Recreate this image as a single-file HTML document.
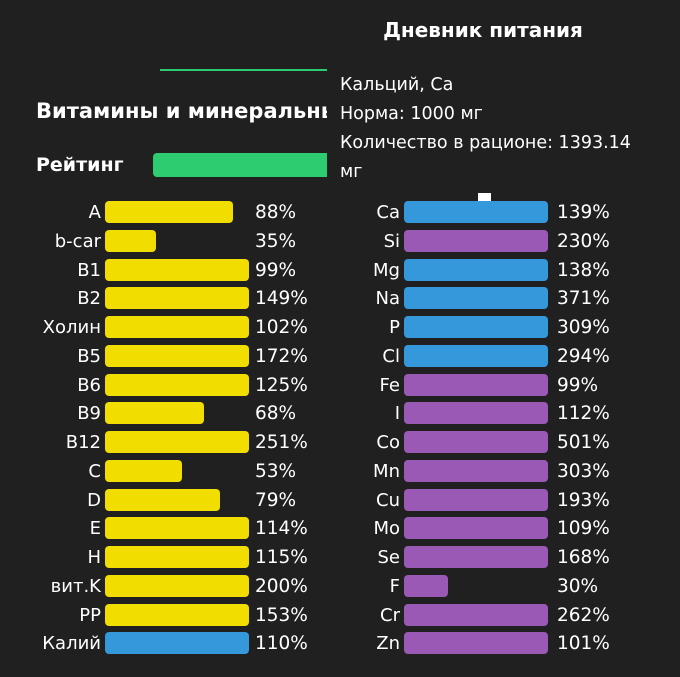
<!DOCTYPE html>
<html><head><meta charset="utf-8"><style>
body{margin:0;width:680px;height:677px;background:#202020;overflow:hidden;font-family:"DejaVu Sans","Liberation Sans",sans-serif;color:#fff;position:relative}
.a{position:absolute;white-space:nowrap}
.l{position:absolute;text-align:right;font-size:18px;line-height:24px}
.p{position:absolute;font-size:18.5px;line-height:24px}
.b{position:absolute;height:22px;border-radius:4px}
</style></head><body>
<div class="a" style="left:0;width:966px;top:18px;text-align:center;font-size:20px;font-weight:bold">Дневник питания</div>
<div class="a" style="left:160px;top:69px;width:167px;height:2px;background:#2ecc71"></div>
<div class="a" style="left:36px;top:99px;font-size:21px;font-weight:bold;width:291px;overflow:hidden">Витамины и минеральные</div>
<div class="a" style="left:36px;top:154px;font-size:19px;font-weight:bold">Рейтинг</div>
<div class="a" style="left:153px;top:153px;width:180px;height:24px;background:#2ecc71;border-radius:4px"></div>
<div class="a" style="left:327px;top:60px;width:320px;height:130px;background:#202020"></div>
<div class="a" style="left:340px;top:71px;font-size:17.5px;line-height:29px">Кальций, Ca<br>Норма: 1000 мг<br>Количество в рационе: 1393.14<br>мг</div>
<div class="a" style="left:478px;top:193px;width:13px;height:8px;background:#fff"></div>
<div id="c"></div>
<script>
var L=[["A",88],["b-car",35],["B1",99],["B2",149],["Холин",102],["B5",172],["B6",125],["B9",68],["B12",251],["C",53],["D",79],["E",114],["H",115],["вит.K",200],["PP",153],["Калий",110]];
var R=[["Ca",139,1],["Si",230,0],["Mg",138,1],["Na",371,1],["P",309,1],["Cl",294,1],["Fe",99,0],["I",112,0],["Co",501,0],["Mn",303,0],["Cu",193,0],["Mo",109,0],["Se",168,0],["F",30,0],["Cr",262,0],["Zn",101,0]];
var h="";
function row(i,n,v,col,lx,bx,px){var y=201+i*28.75;var w=Math.min(144,v*1.46);
h+='<div class="l" style="left:0;width:'+lx+'px;top:'+y+'px">'+n+'</div>';
h+='<div class="b" style="left:'+bx+'px;top:'+y+'px;width:'+w+'px;background:'+col+'"></div>';
h+='<div class="p" style="left:'+px+'px;top:'+y+'px">'+v+'%</div>';}
L.forEach(function(r,i){row(i,r[0],r[1],i==15?"#3498db":"#f1dd00",101,105,255)});
R.forEach(function(r,i){row(i,r[0],r[1],r[2]?"#3498db":"#9b59b6",400,404,557)});
document.getElementById("c").innerHTML=h;
</script>
</body></html>
